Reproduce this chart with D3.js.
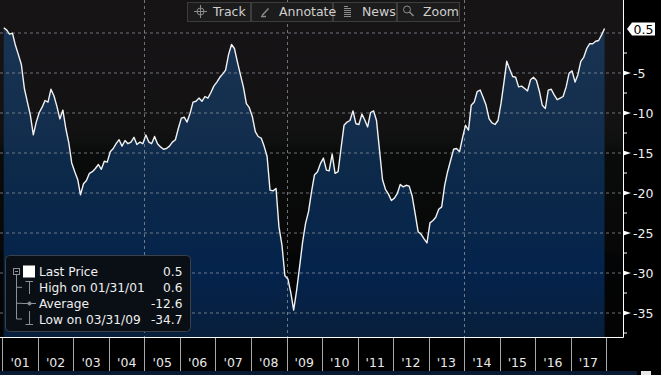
<!DOCTYPE html>
<html>
<head>
<meta charset="utf-8">
<script src="https://cdn.jsdelivr.net/npm/d3@7"></script>
<style>
  body { margin: 0; background: #000; }
  svg { display: block; font-family: "DejaVu Sans", sans-serif; }
</style>
</head>
<body>
<div class="chart"></div>
<script>
// monthly values, Jan 2001 .. Dec 2017 (one line per year)
const monthlyValues = [
  0.6, 0.3, -0.2, -0.1, -1.6, -2.8, -4.0, -7.0, -8.7, -10.3, -12.8, -11.2,
  -10.0, -9.3, -8.5, -8.7, -7.1, -7.9, -9.2, -10.8, -9.7, -12.0, -13.8, -16.3,
  -17.4, -18.4, -20.3, -18.9, -18.5, -17.6, -17.4, -17.0, -16.5, -17.1, -16.1, -16.2,
  -14.9, -14.5, -13.9, -13.4, -14.2, -13.5, -13.9, -13.7, -13.1, -14.0, -13.7, -13.9,
  -12.8, -13.7, -13.9, -13.0, -13.9, -14.3, -14.6, -14.5, -14.2, -13.7, -13.4, -12.0,
  -10.7, -10.6, -11.2, -10.1, -8.7, -8.6, -8.2, -8.6, -8.0, -8.2, -7.5, -6.7,
  -6.2, -5.6, -5.2, -4.7, -2.8, -1.5, -2.0, -3.7, -5.3, -6.8, -8.9, -9.4,
  -10.5, -12.4, -13.0, -13.2, -14.2, -15.5, -19.7, -19.8, -19.5, -24.3, -26.6, -30.4,
  -30.8, -32.6, -34.7, -32.2, -29.3, -26.2, -23.9, -22.4, -19.9, -17.8, -17.4, -16.4,
  -15.7, -17.2, -17.3, -15.2, -17.6, -17.4, -14.5, -11.6, -11.2, -11.0, -9.8, -11.4,
  -11.5, -10.2, -10.9, -11.8, -10.0, -9.8, -11.0, -14.7, -18.4, -19.6, -20.2, -21.0,
  -20.7, -20.1, -19.0, -19.3, -19.1, -19.2, -20.4, -22.6, -24.9, -25.2, -25.8, -26.3,
  -23.8, -23.5, -23.1, -22.1, -21.8, -19.1, -17.4, -16.0, -14.6, -14.5, -14.9, -13.2,
  -11.6, -12.2, -9.1, -8.7, -7.4, -7.2, -8.1, -9.1, -10.8, -11.3, -11.5, -11.0,
  -8.9, -6.2, -3.6, -4.6, -5.5, -5.6, -6.8, -6.7, -7.0, -7.3, -5.9, -5.6,
  -6.0, -7.4, -9.1, -9.5, -7.2, -7.1, -7.8, -8.4, -8.2, -8.0, -6.8, -5.1,
  -4.8, -6.2, -5.3, -3.6, -3.1, -2.0, -1.4, -1.4, -1.1, -1.0, -0.3, 0.5
];
const startYear = 2001;
const yearLabels = ["'01","'02","'03","'04","'05","'06","'07","'08","'09","'10","'11","'12","'13","'14","'15","'16","'17"];
const yTicks = [0, -5, -10, -15, -20, -25, -30, -35];
const yMinorTicks = [-2.5, -7.5, -12.5, -17.5, -22.5, -27.5, -32.5, -37.5];
const gridYears = [2005, 2009, 2014];
const lastPrice = 0.5;
const toolbarLabels = ["Track", "Annotate", "News", "Zoom"];
const legendLabels = ["Last Price", "High on 01/31/01", "Average", "Low on 03/31/09"];
const legendValues = ["0.5", "0.6", "-12.6", "-34.7"];

const W = 661, H = 375;
const plotRight = 623, plotBottom = 337;

const data = monthlyValues.map((v, i) => ({date: new Date(startYear, i, 15), value: v}));

const svg = d3.select(".chart")
  .append("svg")
  .attr("width", W)
  .attr("height", H);

const defs = svg.append("defs");

// banded dark background of the plot
const bgGrad = defs.append("linearGradient")
  .attr("id", "bgGrad")
  .attr("gradientUnits", "userSpaceOnUse")
  .attr("x1", 0).attr("x2", 0).attr("y1", 0).attr("y2", plotBottom);
[[0, "#171416"], [0.38, "#131213"], [0.42, "#0f1010"], [0.45, "#0a0b0b"],
 [0.74, "#080808"], [0.76, "#040506"], [1, "#040404"]]
  .forEach(s => bgGrad.append("stop").attr("offset", s[0]).attr("stop-color", s[1]));

// blue area fill
const fillGrad = defs.append("linearGradient")
  .attr("id", "fillGrad")
  .attr("gradientUnits", "userSpaceOnUse")
  .attr("x1", 0).attr("x2", 0).attr("y1", 0).attr("y2", plotBottom);
[[0, "#1b3453"], [0.3, "#15304f"], [0.44, "#112c4c"], [0.46, "#0d2a4a"],
 [0.7, "#08264a"], [0.8, "#04234c"], [1, "#081f3c"]]
  .forEach(s => fillGrad.append("stop").attr("offset", s[0]).attr("stop-color", s[1]));

const xScale = d3.scaleTime()
  .domain([new Date(startYear, 0, 1), new Date(2018, 0, 1)])
  .range([2.4, 606.2]);

const yScale = d3.scaleLinear()
  .domain([0, -35])
  .range([32.5, 312.5]);

svg.append("rect")
  .attr("x", 0).attr("y", 0)
  .attr("width", plotRight).attr("height", plotBottom)
  .attr("fill", "url(#bgGrad)");

//area under the line
const area = d3.area()
  .x(d => xScale(d.date))
  .y0(plotBottom)
  .y1(d => yScale(d.value));

svg.append("path")
  .datum(data)
  .attr("fill", "url(#fillGrad)")
  .attr("d", area);

//dashed grid
svg.append("g")
  .selectAll("line")
  .data(yTicks)
  .join("line")
  .attr("x1", 0).attr("x2", plotRight)
  .attr("y1", d => yScale(d) + 0.5).attr("y2", d => yScale(d) + 0.5)
  .attr("stroke", "#8d959e")
  .attr("stroke-opacity", 0.75)
  .attr("stroke-dasharray", "3,3");

svg.append("g")
  .selectAll("line")
  .data(gridYears)
  .join("line")
  .attr("x1", d => Math.round(xScale(new Date(d, 0, 1))) + 0.5)
  .attr("x2", d => Math.round(xScale(new Date(d, 0, 1))) + 0.5)
  .attr("y1", 0).attr("y2", plotBottom)
  .attr("stroke", "#8d959e")
  .attr("stroke-opacity", 0.75)
  .attr("stroke-dasharray", "3,3");

//the line itself
const line = d3.line()
  .x(d => xScale(d.date))
  .y(d => yScale(d.value));

svg.append("path")
  .datum(data)
  .attr("fill", "none")
  .attr("stroke", "#f2f2f2")
  .attr("stroke-width", 1.4)
  .attr("stroke-linejoin", "round")
  .attr("d", line);

//right axis
const yAxis = d3.axisRight(yScale)
  .tickValues(yTicks.filter(d => d < 0))
  .tickSize(0)
  .tickPadding(10)
  .tickFormat(d => String(d));

const yAxisGroup = svg.append("g")
  .attr("transform", `translate(${plotRight},0)`)
  .call(yAxis);

yAxisGroup.select(".domain").remove();
yAxisGroup.selectAll(".tick text")
  .attr("fill", "#f0f0f0")
  .attr("font-size", 12.5)
  .attr("font-family", "DejaVu Sans, sans-serif")
  .attr("dy", "0.36em");

yAxisGroup.selectAll(".tick")
  .append("path")
  .attr("d", "M0,-2.5L8,0L0,2.5Z")
  .attr("fill", "#ffffff");

yAxisGroup.append("g")
  .selectAll("line")
  .data(yMinorTicks)
  .join("line")
  .attr("x1", 0).attr("x2", 4)
  .attr("y1", d => yScale(d) + 0.5).attr("y2", d => yScale(d) + 0.5)
  .attr("stroke", "#ffffff");

svg.append("path")
  .attr("d", `M${plotRight + 0.5},0V${plotBottom + 0.5}H0`)
  .attr("fill", "none")
  .attr("stroke", "#ffffff");

//last price tag
const ty = yScale(lastPrice) + 0.5;
svg.append("path")
  .attr("d", `M627,${ty}L632,${ty - 6.5}H655V${ty + 6.5}H632Z`)
  .attr("fill", "#ffffff");
svg.append("text")
  .attr("x", 633.5).attr("y", ty + 4.5)
  .attr("font-size", 12.5)
  .attr("fill", "#000")
  .text(String(lastPrice));

//bottom axis: year separators and labels
const yearStarts = d3.range(startYear, startYear + yearLabels.length + 1).map(y => new Date(y, 0, 1));

svg.append("g")
  .selectAll("line")
  .data(yearStarts)
  .join("line")
  .attr("x1", d => Math.round(xScale(d)) + 0.5)
  .attr("x2", d => Math.round(xScale(d)) + 0.5)
  .attr("y1", plotBottom + 1).attr("y2", 371)
  .attr("stroke", "#a8a8a8");

svg.append("g")
  .selectAll("text")
  .data(yearLabels)
  .join("text")
  .attr("x", (d, i) => xScale(new Date(startYear + i, 6, 2)))
  .attr("y", 367)
  .attr("text-anchor", "middle")
  .attr("font-size", 12.5)
  .attr("fill", "#e8e8e8")
  .text(d => d);

svg.append("rect")
  .attr("x", 0).attr("y", 371)
  .attr("width", 637).attr("height", 4)
  .attr("fill", "#0b1a33");
svg.append("rect")
  .attr("x", 641).attr("y", 371)
  .attr("width", 10).attr("height", 4)
  .attr("fill", "#e8e8e8");

//toolbar
const buttons = [[187.5, 63], [251.5, 81], [333.5, 63], [397.5, 62]];
const textX = [213, 279, 362, 423];
const toolbar = svg.append("g");

toolbar.selectAll("rect")
  .data(buttons)
  .join("rect")
  .attr("x", d => d[0]).attr("y", 2.5)
  .attr("width", d => d[1]).attr("height", 19)
  .attr("fill", "#1c1c1c")
  .attr("stroke", "#3d3d3d");

toolbar.selectAll("text")
  .data(toolbarLabels)
  .join("text")
  .attr("x", (d, i) => textX[i])
  .attr("y", 16)
  .attr("font-size", 12.5)
  .attr("fill", "#cfcfcf")
  .text(d => d);

const ic = toolbar.append("g")
  .attr("fill", "none")
  .attr("stroke", "#8c8c8c")
  .attr("stroke-width", 1);
// crosshair
ic.append("circle").attr("cx", 200.5).attr("cy", 11.5).attr("r", 3.5);
ic.append("path").attr("d", "M194,11.5H207M200.5,5V18");
// pencil
ic.append("path").attr("d", "M262,15.5L268.5,8.5M261,16.5H266").attr("stroke-width", 1.4);
// news
ic.append("path").attr("d", "M344,6.5H348M344,8.5H351M344,10.5H351M344,12.5H351M344,14.5H351M344,16.5H351");
// magnifier
ic.append("circle").attr("cx", 407).attr("cy", 9.5).attr("r", 3.5);
ic.append("path").attr("d", "M409.5,12L413.5,16").attr("stroke-width", 1.5);

//legend
const legend = svg.append("g");
legend.append("rect")
  .attr("x", 5.5).attr("y", 255.5)
  .attr("width", 185).attr("height", 76)
  .attr("rx", 4)
  .attr("fill", "#0a0f16")
  .attr("stroke", "#3b4149");

const rowY = [271.5, 287.3, 303.3, 319];

legend.selectAll("text.lab")
  .data(legendLabels)
  .join("text")
  .attr("class", "lab")
  .attr("x", 39).attr("y", (d, i) => rowY[i] + 4.5)
  .attr("font-size", 12.2)
  .attr("fill", "#f0f0f0")
  .text(d => d);

legend.selectAll("text.val")
  .data(legendValues)
  .join("text")
  .attr("class", "val")
  .attr("x", 182.5).attr("y", (d, i) => rowY[i] + 4.5)
  .attr("text-anchor", "end")
  .attr("font-size", 12.2)
  .attr("fill", "#f0f0f0")
  .text(d => d);

const li = legend.append("g")
  .attr("fill", "none")
  .attr("stroke", "#8c9198");
li.append("rect").attr("x", 13.5).attr("y", 268.5).attr("width", 6).attr("height", 6);
li.append("path").attr("d", "M15,271.5H18");
li.append("path").attr("d", `M16.5,274.5V${rowY[3]}M16.5,${rowY[1]}H22M16.5,${rowY[2]}H22M16.5,${rowY[3]}H22`);
li.append("path").attr("d", "M25.5,281.5H33M29.5,281.5V294");
li.append("path").attr("d", "M22,303.5H36");
li.append("circle").attr("cx", 29.5).attr("cy", 303.5).attr("r", 1.6).attr("fill", "#8c9198");
li.append("path").attr("d", "M29.5,311V324.5M25.5,324.5H33");
legend.append("rect")
  .attr("x", 23).attr("y", 265.5)
  .attr("width", 12).attr("height", 12)
  .attr("fill", "#ffffff");
</script>
</body>
</html>
